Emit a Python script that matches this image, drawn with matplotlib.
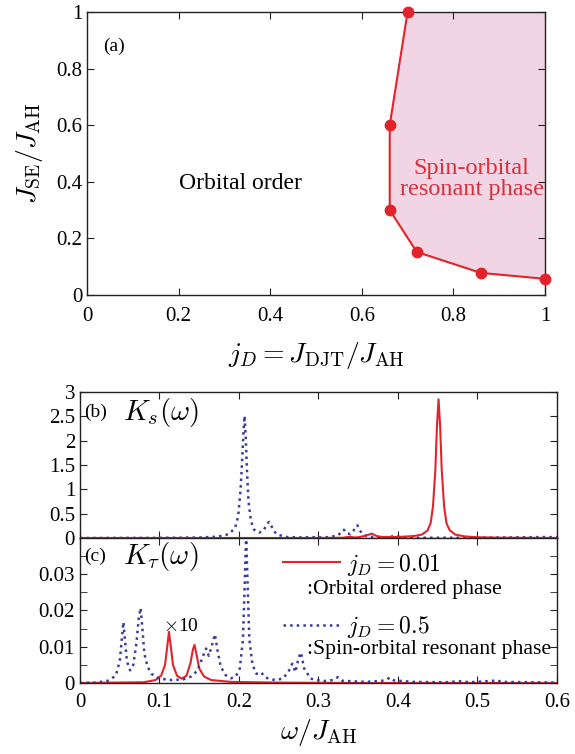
import matplotlib
matplotlib.use("Agg")
import matplotlib.pyplot as plt
import numpy as np
from matplotlib.ticker import MultipleLocator

plt.rcParams['font.family'] = ['Liberation Serif', 'DejaVu Serif']
plt.rcParams['mathtext.fontset'] = 'cm'

# (a) phase boundary
jd_boundary = [0.70, 0.661, 0.661, 0.72, 0.86, 1.0]
jse_boundary = [1.0, 0.6, 0.3, 0.152, 0.078, 0.057]

# (b) K_s(omega)
ks_w_05 = [0, 0.1, 0.15, 0.17, 0.18, 0.187, 0.195, 0.199, 0.202, 0.204, 0.2055, 0.207,
           0.2085, 0.210, 0.212, 0.215, 0.219, 0.225, 0.23, 0.234, 0.236, 0.238, 0.240,
           0.243, 0.248, 0.26, 0.28, 0.29, 0.3, 0.315, 0.325, 0.33, 0.332, 0.335, 0.34,
           0.344, 0.347, 0.349, 0.352, 0.357, 0.365, 0.38, 0.392, 0.397, 0.402, 0.42,
           0.5, 0.59, 0.6]
ks_v_05 = [0, 0.003, 0.01, 0.025, 0.045, 0.08, 0.2, 0.45, 1.0, 1.6, 2.15, 2.51,
           2.05, 1.4, 0.75, 0.35, 0.17, 0.11, 0.14, 0.24, 0.3, 0.33, 0.28,
           0.16, 0.07, 0.02, 0.01, 0.02, 0.01, 0.02, 0.06, 0.14, 0.17, 0.1, 0.08,
           0.15, 0.24, 0.26, 0.15, 0.06, 0.02, 0.01, 0.03, 0.05, 0.02, 0.005,
           0.005, 0.02, 0.01]
ks_w_001 = [0, 0.3, 0.33, 0.34, 0.345, 0.35, 0.36, 0.367, 0.373, 0.38, 0.4, 0.42, 0.43,
            0.437, 0.441, 0.444, 0.447, 0.449, 0.451, 0.453, 0.455, 0.458, 0.461, 0.465,
            0.472, 0.485, 0.5, 0.53, 0.6]
ks_v_001 = [0, 0.0, 0.005, 0.025, 0.01, 0.015, 0.05, 0.09, 0.04, 0.02, 0.02, 0.04, 0.07,
            0.15, 0.3, 0.65, 1.4, 2.3, 2.85, 2.3, 1.4, 0.65, 0.3, 0.16,
            0.07, 0.03, 0.015, 0.005, 0.0]

# (c) K_tau(omega)
kt_w_05 = [0, 0.02, 0.035, 0.045, 0.05, 0.053, 0.0546, 0.0565, 0.059, 0.063, 0.067, 0.071,
           0.074, 0.0763, 0.0785, 0.081, 0.085, 0.09, 0.1, 0.115, 0.13, 0.14, 0.148, 0.154,
           0.1586, 0.162, 0.1655, 0.1697, 0.173, 0.177, 0.183, 0.19, 0.196, 0.201, 0.205,
           0.207, 0.209, 0.211, 0.213, 0.217, 0.222, 0.228, 0.233, 0.245, 0.255, 0.262,
           0.267, 0.271, 0.275, 0.278, 0.282, 0.29, 0.305, 0.318, 0.3245, 0.33, 0.36, 0.38,
           0.386, 0.390, 0.395, 0.42, 0.46, 0.477, 0.49, 0.52, 0.524, 0.53, 0.6]
kt_v_05 = [0, 0.0001, 0.0006, 0.002, 0.006, 0.013, 0.0168, 0.012, 0.006, 0.0035, 0.005, 0.011,
           0.018, 0.0207, 0.015, 0.008, 0.0045, 0.0025, 0.0012, 0.0008, 0.001, 0.0018, 0.0035, 0.007,
           0.0095, 0.0075, 0.01, 0.0134, 0.009, 0.0045, 0.0022, 0.0013, 0.0018, 0.004, 0.012,
           0.026, 0.0405, 0.026, 0.012, 0.005, 0.0025, 0.0029, 0.0015, 0.0008, 0.0012, 0.003,
           0.0053, 0.003, 0.007, 0.0084, 0.004, 0.0012, 0.0005, 0.0008, 0.0016, 0.0006, 0.0003, 0.0006,
           0.001, 0.0015, 0.0007, 0.0003, 0.0002, 0.0005, 0.0002, 0.0006, 0.0008, 0.0003, 0.0001]
kt_w_001 = [0, 0.08, 0.095, 0.102, 0.107, 0.11, 0.1119, 0.114, 0.117, 0.122, 0.128, 0.134,
            0.139, 0.142, 0.144, 0.146, 0.15, 0.156, 0.165, 0.19, 0.25, 0.35, 0.6]
kt_v_001 = [0, 0.0002, 0.0008, 0.002, 0.005, 0.0105, 0.0141, 0.0105, 0.005, 0.002, 0.0012, 0.002,
            0.0055, 0.0092, 0.0105, 0.0085, 0.004, 0.0018, 0.0008, 0.0003, 0.0001, 0.0, 0.0]

red = '#e3232b'
blue = '#3b3b9c'
pink = '#f1d5e4'
dark = '#222222'

fig = plt.figure(figsize=(5.75, 7.54), dpi=100)
axa = fig.add_axes([0.1513, 0.6088, 0.7965, 0.3753])
axb = fig.add_axes([0.1391, 0.2865, 0.8296, 0.1936])
axc = fig.add_axes([0.1391, 0.0942, 0.8296, 0.1923])

for ax in (axa, axb, axc):
    ax.tick_params(direction='in', top=True, right=True, length=5, labelsize=15,
                   color=dark, which='both')
    for s in ax.spines.values():
        s.set_color(dark)
        s.set_linewidth(1.0)

# panel (a)
axa.fill_betweenx(jse_boundary, jd_boundary, 1.0, color=pink, lw=0)
axa.plot(jd_boundary, jse_boundary, '-o', color=red, lw=1.5, ms=7.5, clip_on=False, zorder=5)
axa.set_xlim(0, 1)
axa.set_ylim(0, 1)
axa.xaxis.set_major_locator(MultipleLocator(0.2))
axa.yaxis.set_major_locator(MultipleLocator(0.2))
axa.xaxis.set_major_formatter(plt.FuncFormatter(lambda v, p: '%g' % v))
axa.yaxis.set_major_formatter(plt.FuncFormatter(lambda v, p: '%g' % v))
axa.tick_params(axis='x', pad=9)
axa.text(0.035, 0.88, '(a)', fontsize=14, va='center')
axa.text(0.335, 0.395, 'Orbital order', fontsize=17, ha='center', va='center')
axa.text(0.84, 0.41, 'Spin-orbital\nresonant phase', fontsize=17.5, ha='center', va='center',
         color='#d8303c', linespacing=1.0)
axa.set_xlabel(r'$j_D = J_{\rm DJT}/J_{\rm AH}$', fontsize=20, labelpad=10)
axa.set_ylabel(r'$J_{\rm SE}/J_{\rm AH}$', fontsize=20, labelpad=8)

# panel (b)
axb.plot(ks_w_05, ks_v_05, ':', color=blue, lw=1.8)
axb.plot(ks_w_001, ks_v_001, '-', color=red, lw=1.5)
axb.set_xlim(0, 0.6)
axb.set_ylim(0, 3)
axb.xaxis.set_major_locator(MultipleLocator(0.1))
axb.yaxis.set_major_locator(MultipleLocator(0.5))
axb.yaxis.set_major_formatter(plt.FuncFormatter(lambda v, p: '%g' % v))
axb.tick_params(axis='x', labelbottom=False)
axb.text(0.008, 0.86, '(b)', transform=axb.transAxes, fontsize=14, va='center')
axb.text(0.09, 0.86, r'$K_s(\omega)$', transform=axb.transAxes, fontsize=21, va='center')

# panel (c)
lr, = axc.plot(kt_w_001, kt_v_001, '-', color=red, lw=1.5)
lb, = axc.plot(kt_w_05, kt_v_05, ':', color=blue, lw=1.8)
axc.set_xlim(0, 0.6)
axc.set_ylim(0, 0.04)
axc.xaxis.set_major_locator(MultipleLocator(0.1))
axc.set_yticks([0, 0.01, 0.02, 0.03])
axc.yaxis.set_minor_locator(MultipleLocator(0.005))
axc.xaxis.set_major_formatter(plt.FuncFormatter(lambda v, p: '%g' % v))
axc.yaxis.set_major_formatter(plt.FuncFormatter(lambda v, p: '%g' % v))
axc.tick_params(axis='x', pad=7)
axc.text(0.008, 0.87, '(c)', transform=axc.transAxes, fontsize=14, va='center')
axc.text(0.09, 0.87, r'$K_\tau(\omega)$', transform=axc.transAxes, fontsize=21, va='center')
axc.text(0.104, 0.0155, r'$\times$10', fontsize=14, va='center')
axc.legend([lr, lb], [r'$j_D = 0.01$', r'$j_D = 0.5$'], loc='upper left',
           bbox_to_anchor=(0.426, 0.905), frameon=False, fontsize=17, handlelength=2.4,
           handletextpad=0.3, labelspacing=1.55, borderpad=0, borderaxespad=0)
axc.text(0.476, 0.648, ':Orbital ordered phase', transform=axc.transAxes, fontsize=15.7,
         va='center')
axc.text(0.476, 0.228, ':Spin-orbital resonant phase', transform=axc.transAxes, fontsize=15.7,
         va='center')
axc.set_xlabel(r'$\omega/J_{\rm AH}$', fontsize=20, labelpad=4)

fig.savefig('out.png', dpi=100)
